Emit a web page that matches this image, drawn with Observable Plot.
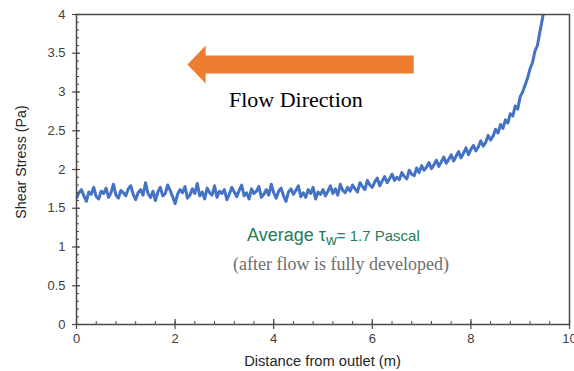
<!DOCTYPE html>
<html>
<head>
<meta charset="utf-8">
<script src="https://cdn.jsdelivr.net/npm/d3@7"></script>
<script src="https://cdn.jsdelivr.net/npm/@observablehq/plot@0.6"></script>
<style>
  html, body { margin: 0; padding: 0; background: #fff; }
  #chart { width: 574px; height: 371px; overflow: hidden; }
</style>
</head>
<body>
<div id="chart"></div>
<script>
// ---- data ----
const xStart = 0;
const xStep = 0.05; // sampling step of the measured profile (m)
const shear = [
  1.63,1.70,1.74,1.66,1.59,1.71,1.68,1.77,1.65,1.62,
  1.72,1.69,1.76,1.64,1.70,1.81,1.67,1.63,1.73,1.70,
  1.66,1.75,1.79,1.68,1.61,1.70,1.74,1.67,1.83,1.69,
  1.64,1.72,1.60,1.71,1.77,1.66,1.69,1.80,1.73,1.65,
  1.56,1.68,1.74,1.70,1.78,1.63,1.67,1.75,1.69,1.82,
  1.66,1.71,1.62,1.76,1.70,1.67,1.79,1.64,1.72,1.69,
  1.74,1.61,1.68,1.77,1.71,1.65,1.73,1.80,1.66,1.70,
  1.62,1.75,1.69,1.72,1.78,1.64,1.68,1.74,1.67,1.81,
  1.70,1.63,1.72,1.76,1.66,1.59,1.71,1.75,1.68,1.73,
  1.79,1.65,1.70,1.64,1.74,1.69,1.77,1.62,1.71,1.68,
  1.74,
  1.66,1.72,1.79,1.69,1.75,1.67,1.81,1.73,1.70,1.77,
  1.72,1.80,1.75,1.71,1.83,1.78,1.74,1.86,1.80,1.77,
  1.84,1.89,1.79,1.85,1.91,1.83,1.88,1.94,1.86,1.90,
  1.87,1.96,1.91,1.88,1.99,1.94,1.92,2.02,1.96,2.05,
  1.99,2.03,2.09,2.01,2.06,2.12,2.04,2.10,2.16,2.08,
  2.13,2.19,2.11,2.17,2.23,2.15,2.21,2.28,2.19,2.26,
  2.31,2.24,2.29,2.37,2.30,2.35,2.44,2.38,2.43,2.52,
  2.47,2.58,2.53,2.64,2.60,2.72,2.69,2.82,2.78,2.94,
  3.00,3.09,3.18,3.30,3.38,3.53,3.60,3.78,3.94,4.12
];
const xTicks = [0, 2, 4, 6, 8, 10];
const yTicks = [0, 0.5, 1, 1.5, 2, 2.5, 3, 3.5, 4];
const xLabel = "Distance from outlet (m)";
const yLabel = "Shear Stress (Pa)";
const flowText = "Flow Direction";
const avgLead = "Average τ";
const avgSub = "w";
const avgTail = "= 1.7 Pascal";
const noteText = "(after flow is fully developed)";
// arrow outline (data units: x in m, y in Pa)
const arrowX = [2.25, 2.62, 2.62, 6.84, 6.84, 2.62, 2.62, 2.25];
const arrowY = [3.355, 3.60, 3.471, 3.471, 3.239, 3.239, 3.11, 3.355];

const series = shear.map((v, i) => ({x: xStart + i * xStep, y: v}));
const arrow = arrowX.map((x, i) => ({x, y: arrowY[i]}));
const xMinor = d3.range(0, 10.0001, 0.4);
const yMinor = d3.range(0, 4.0001, 0.1);

const FONT = "'Liberation Sans', Arial, sans-serif";
const SERIF = "'Liberation Serif', 'Times New Roman', serif";

function textMark(build) {
  return (index, scales) => {
    const g = d3.create("svg:g");
    build(g, scales);
    return g.node();
  };
}

const chart = Plot.plot({
  width: 574,
  height: 371,
  marginLeft: 76,
  marginRight: 5,
  marginTop: 14,
  marginBottom: 47,
  style: {fontFamily: FONT, background: "#fff", overflow: "visible"},
  x: {domain: [0, 10]},
  y: {domain: [0, 4]},
  marks: [
    // data line
    Plot.line(series, {x: "x", y: "y", stroke: "#4472C4", strokeWidth: 3, clip: true}),
    // frame
    Plot.frame({stroke: "#4a4a4a", strokeWidth: 1.5}),
    // tick marks
    Plot.ruleX(xMinor, {x: d => d, y1: 0, y2: 0, insetTop: -3, insetBottom: 0, stroke: "#4a4a4a", strokeWidth: 1}),
    Plot.ruleX(xTicks, {x: d => d, y1: 0, y2: 0, insetTop: -5, insetBottom: -5, stroke: "#4a4a4a", strokeWidth: 1.2}),
    Plot.ruleY(yMinor, {y: d => d, x1: 0, x2: 0, insetLeft: 0, insetRight: -3, stroke: "#4a4a4a", strokeWidth: 1}),
    Plot.ruleY(yTicks, {y: d => d, x1: 0, x2: 0, insetLeft: -4, insetRight: -4, stroke: "#4a4a4a", strokeWidth: 1.2}),
    // tick labels
    Plot.axisX(xTicks, {tickSize: 0, tickPadding: 9, fontSize: 13, color: "#404040", tickFormat: d => String(d), label: null}),
    Plot.axisY(yTicks, {tickSize: 0, tickPadding: 11, fontSize: 13, color: "#404040", tickFormat: d => String(d), label: null}),
    // arrow
    Plot.line(arrow, {x: "x", y: "y", fill: "#ED7D31", stroke: "none"}),
    // texts
    textMark((g, s) => {
      g.append("text")
        .attr("x", (s.x(0) + s.x(10)) / 2).attr("y", 366)
        .attr("text-anchor", "middle").attr("font-size", 14.7).attr("fill", "#262626")
        .attr("font-family", FONT).text(xLabel);
      g.append("text")
        .attr("transform", "translate(25.5,162) rotate(-90)")
        .attr("text-anchor", "middle").attr("font-size", 14.3).attr("fill", "#262626")
        .attr("font-family", FONT).text(yLabel);
      g.append("text")
        .attr("x", s.x(4.46)).attr("y", s.y(2.80))
        .attr("text-anchor", "middle").attr("font-size", 22).attr("fill", "#000")
        .attr("font-family", SERIF).text(flowText);
      const t = g.append("text")
        .attr("x", s.x(3.47)).attr("y", s.y(1.07))
        .attr("text-anchor", "start").attr("fill", "#2A7A58")
        .attr("font-family", FONT);
      t.append("tspan").attr("font-size", 18).text(avgLead);
      t.append("tspan").attr("font-size", 15).attr("dy", 4).text(avgSub);
      t.append("tspan").attr("font-size", 15).attr("dy", -4).text(avgTail);
      g.append("text")
        .attr("x", s.x(5.375)).attr("y", s.y(0.697))
        .attr("text-anchor", "middle").attr("font-size", 18).attr("fill", "#6e6e6e")
        .attr("font-family", SERIF).text(noteText);
    })
  ]
});
document.getElementById("chart").appendChild(chart);
</script>
</body>
</html>
